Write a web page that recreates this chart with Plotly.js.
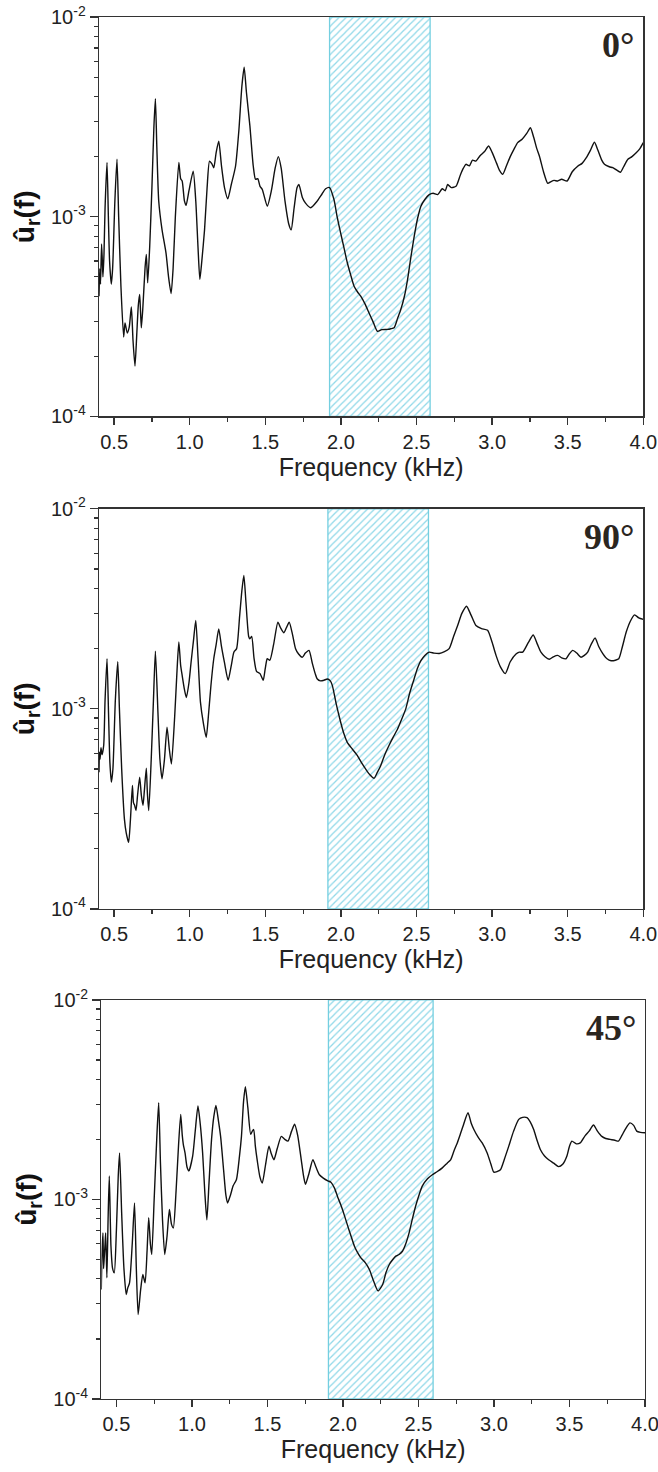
<!DOCTYPE html>
<html>
<head>
<meta charset="utf-8">
<script src="https://cdn.plot.ly/plotly-3.0.1.min.js"></script>
<style>html,body{margin:0;padding:0;background:#fff;}#chart{width:658px;height:1472px;}</style>
</head>
<body>
<div id="chart"></div>
<script>
// ---------- data ----------
const panelLabels = ['0°', '90°', '45°'];
const xTitle = 'Frequency (kHz)';
const yTitle = 'û<sub>r</sub>(f)';
const yTickVals = [1e-4, 1e-3, 1e-2];
const yTickText = ['10<sup>-4</sup>', '10<sup>-3</sup>', '10<sup>-2</sup>'];
const yMin = 1e-4, yMax = 1e-2;
const bandLow  = [1.925, 1.914, 1.904];
const bandHigh = [2.590, 2.579, 2.597];

const freq0 = [0.400,0.405,0.410,0.417,0.422,0.426,0.433,0.440,0.453,0.462,0.470,0.481,0.490,0.505,0.519,0.530,0.545,0.563,0.572,0.587,0.600,0.614,0.625,0.638,0.650,0.660,0.669,0.675,0.680,0.690,0.705,0.713,0.722,0.735,0.750,0.763,0.773,0.782,0.795,0.817,0.843,0.860,0.877,0.890,0.905,0.928,0.940,0.950,0.965,0.976,0.995,1.023,1.040,1.055,1.067,1.080,1.098,1.115,1.131,1.145,1.159,1.175,1.192,1.210,1.230,1.252,1.275,1.303,1.325,1.345,1.360,1.375,1.398,1.420,1.435,1.450,1.465,1.480,1.513,1.540,1.565,1.586,1.605,1.630,1.655,1.671,1.690,1.710,1.722,1.745,1.766,1.800,1.844,1.875,1.899,1.925,1.954,1.975,1.998,2.020,2.042,2.065,2.087,2.110,2.131,2.160,2.186,2.215,2.242,2.270,2.308,2.330,2.352,2.375,2.396,2.420,2.441,2.463,2.485,2.507,2.529,2.555,2.584,2.610,2.640,2.670,2.690,2.706,2.730,2.761,2.790,2.810,2.827,2.850,2.870,2.893,2.920,2.950,2.977,3.000,3.030,3.050,3.070,3.095,3.120,3.145,3.169,3.200,3.230,3.253,3.275,3.295,3.313,3.340,3.368,3.390,3.410,3.434,3.460,3.496,3.530,3.566,3.595,3.622,3.650,3.677,3.700,3.725,3.743,3.775,3.798,3.820,3.849,3.870,3.898,3.925,3.953,3.975,4.000];
const amp0 = [4.0e-4,5.5e-4,4.6e-4,7.3e-4,6.0e-4,5.0e-4,6.5e-4,1.1e-3,1.87e-3,1.0e-3,6.0e-4,4.6e-4,5.5e-4,1.2e-3,1.94e-3,1.0e-3,4.5e-4,2.5e-4,2.94e-4,2.62e-4,2.8e-4,3.54e-4,2.4e-4,1.79e-4,2.6e-4,3.6e-4,4.08e-4,3.3e-4,2.78e-4,3.5e-4,5.6e-4,6.48e-4,4.67e-4,7.0e-4,1.4e-3,2.8e-3,3.9e-3,2.3e-3,1.2e-3,8.6e-4,6.6e-4,5.0e-4,4.13e-4,5.5e-4,1.0e-3,1.87e-3,1.55e-3,1.51e-3,1.2e-3,1.14e-3,1.35e-3,1.69e-3,1.2e-3,7.0e-4,4.86e-4,6.0e-4,8.6e-4,1.4e-3,1.9e-3,1.85e-3,1.76e-3,2.1e-3,2.39e-3,1.8e-3,1.4e-3,1.23e-3,1.45e-3,1.79e-3,2.7e-3,4.5e-3,5.6e-3,4.2e-3,2.85e-3,1.8e-3,1.54e-3,1.55e-3,1.42e-3,1.37e-3,1.13e-3,1.35e-3,1.75e-3,2.0e-3,1.75e-3,1.2e-3,9.2e-4,8.6e-4,1.1e-3,1.4e-3,1.45e-3,1.25e-3,1.17e-3,1.11e-3,1.2e-3,1.3e-3,1.38e-3,1.4e-3,1.22e-3,1.0e-3,8.3e-4,7.0e-4,5.9e-4,5.1e-4,4.49e-4,4.2e-4,4.0e-4,3.65e-4,3.3e-4,2.95e-4,2.67e-4,2.72e-4,2.73e-4,2.75e-4,2.78e-4,3.1e-4,3.43e-4,4.0e-4,4.86e-4,6.3e-4,8.0e-4,9.8e-4,1.13e-3,1.22e-3,1.29e-3,1.31e-3,1.29e-3,1.38e-3,1.35e-3,1.45e-3,1.40e-3,1.42e-3,1.62e-3,1.75e-3,1.83e-3,1.80e-3,1.92e-3,1.90e-3,2.02e-3,2.12e-3,2.26e-3,2.10e-3,1.85e-3,1.70e-3,1.63e-3,1.80e-3,2.00e-3,2.18e-3,2.35e-3,2.45e-3,2.62e-3,2.79e-3,2.5e-3,2.2e-3,2.01e-3,1.68e-3,1.47e-3,1.5e-3,1.52e-3,1.51e-3,1.54e-3,1.51e-3,1.68e-3,1.79e-3,1.85e-3,1.97e-3,2.15e-3,2.36e-3,2.15e-3,1.92e-3,1.83e-3,1.78e-3,1.76e-3,1.72e-3,1.67e-3,1.78e-3,1.94e-3,2.0e-3,2.09e-3,2.18e-3,2.35e-3];

const freq90 = [0.400,0.403,0.407,0.413,0.420,0.431,0.440,0.453,0.463,0.472,0.482,0.492,0.508,0.524,0.535,0.550,0.568,0.580,0.596,0.608,0.621,0.628,0.636,0.645,0.655,0.669,0.680,0.691,0.700,0.713,0.720,0.729,0.745,0.760,0.773,0.790,0.803,0.817,0.833,0.850,0.865,0.879,0.900,0.915,0.928,0.940,0.950,0.965,0.978,0.995,1.009,1.025,1.040,1.055,1.071,1.090,1.109,1.125,1.140,1.159,1.175,1.192,1.210,1.230,1.254,1.275,1.292,1.310,1.330,1.345,1.358,1.372,1.390,1.398,1.410,1.425,1.442,1.465,1.486,1.500,1.513,1.530,1.555,1.583,1.600,1.623,1.640,1.658,1.680,1.700,1.720,1.744,1.765,1.789,1.810,1.830,1.844,1.865,1.888,1.910,1.930,1.943,1.970,1.998,2.020,2.042,2.075,2.108,2.135,2.164,2.190,2.219,2.240,2.263,2.290,2.318,2.345,2.374,2.400,2.429,2.455,2.484,2.507,2.529,2.555,2.584,2.615,2.650,2.685,2.716,2.745,2.772,2.800,2.831,2.860,2.893,2.930,2.970,3.000,3.026,3.055,3.087,3.120,3.158,3.180,3.202,3.240,3.272,3.300,3.323,3.350,3.378,3.405,3.434,3.460,3.489,3.510,3.533,3.560,3.588,3.610,3.632,3.655,3.681,3.705,3.732,3.760,3.787,3.815,3.838,3.862,3.887,3.915,3.942,3.970,4.000];
const amp90 = [4.82e-4,6.07e-4,5.6e-4,6.4e-4,5.9e-4,6.56e-4,1.1e-3,1.78e-3,9.5e-4,5.4e-4,4.3e-4,5.0e-4,1.1e-3,1.72e-3,1.0e-3,5.0e-4,2.82e-4,2.4e-4,2.15e-4,2.8e-4,4.14e-4,3.4e-4,3.29e-4,3.1e-4,3.7e-4,4.55e-4,3.7e-4,3.29e-4,3.9e-4,5.05e-4,3.8e-4,3.1e-4,5.5e-4,1.1e-3,1.94e-3,9.5e-4,5.6e-4,4.47e-4,5.6e-4,8.1e-4,6.3e-4,5.3e-4,9.0e-4,1.5e-3,2.16e-3,1.65e-3,1.47e-3,1.25e-3,1.14e-3,1.35e-3,1.71e-3,2.2e-3,2.77e-3,1.8e-3,1.08e-3,8.5e-4,7.2e-4,9.5e-4,1.3e-3,1.78e-3,2.1e-3,2.51e-3,2.05e-3,1.7e-3,1.39e-3,1.65e-3,1.92e-3,2.0e-3,2.9e-3,3.9e-3,4.64e-3,3.4e-3,2.3e-3,2.24e-3,2.3e-3,1.8e-3,1.54e-3,1.5e-3,1.39e-3,1.6e-3,1.78e-3,1.75e-3,2.1e-3,2.71e-3,2.55e-3,2.4e-3,2.55e-3,2.71e-3,2.35e-3,2.0e-3,1.88e-3,1.81e-3,1.9e-3,1.96e-3,1.7e-3,1.5e-3,1.41e-3,1.38e-3,1.39e-3,1.41e-3,1.38e-3,1.31e-3,1.05e-3,8.6e-4,7.5e-4,6.8e-4,6.3e-4,5.85e-4,5.4e-4,5.0e-4,4.7e-4,4.5e-4,4.8e-4,5.2e-4,5.9e-4,6.56e-4,7.2e-4,7.9e-4,8.8e-4,1.0e-3,1.2e-3,1.41e-3,1.6e-3,1.74e-3,1.85e-3,1.92e-3,1.9e-3,1.89e-3,1.93e-3,2.0e-3,2.3e-3,2.61e-3,3.0e-3,3.26e-3,2.95e-3,2.61e-3,2.52e-3,2.47e-3,2.15e-3,1.85e-3,1.62e-3,1.5e-3,1.72e-3,1.88e-3,1.92e-3,1.92e-3,2.15e-3,2.34e-3,2.1e-3,1.92e-3,1.82e-3,1.77e-3,1.82e-3,1.85e-3,1.8e-3,1.78e-3,1.88e-3,1.96e-3,1.9e-3,1.81e-3,1.85e-3,1.92e-3,2.1e-3,2.26e-3,2.05e-3,1.89e-3,1.78e-3,1.74e-3,1.75e-3,1.78e-3,2.05e-3,2.42e-3,2.75e-3,2.95e-3,2.85e-3,2.8e-3];

const freq45 = [0.400,0.405,0.411,0.415,0.420,0.425,0.429,0.437,0.445,0.453,0.464,0.475,0.486,0.500,0.512,0.521,0.535,0.550,0.565,0.575,0.587,0.605,0.620,0.632,0.644,0.660,0.675,0.690,0.703,0.714,0.725,0.734,0.750,0.767,0.780,0.792,0.805,0.820,0.835,0.851,0.865,0.877,0.895,0.912,0.926,0.936,0.943,0.955,0.968,0.980,1.005,1.022,1.040,1.055,1.071,1.085,1.099,1.113,1.130,1.145,1.159,1.175,1.190,1.210,1.225,1.236,1.255,1.273,1.295,1.315,1.328,1.342,1.354,1.370,1.389,1.400,1.409,1.420,1.433,1.450,1.466,1.488,1.510,1.525,1.543,1.565,1.592,1.615,1.636,1.660,1.680,1.700,1.724,1.740,1.752,1.775,1.801,1.822,1.844,1.870,1.900,1.920,1.944,1.965,1.988,2.010,2.032,2.055,2.076,2.098,2.119,2.150,2.175,2.203,2.232,2.263,2.285,2.307,2.330,2.350,2.372,2.394,2.416,2.438,2.460,2.482,2.505,2.526,2.560,2.592,2.625,2.658,2.690,2.713,2.735,2.757,2.775,2.795,2.828,2.850,2.867,2.895,2.922,2.955,2.980,2.999,3.020,3.043,3.070,3.098,3.130,3.164,3.190,3.219,3.240,3.263,3.285,3.307,3.335,3.362,3.395,3.428,3.455,3.483,3.500,3.516,3.545,3.571,3.604,3.630,3.659,3.685,3.714,3.740,3.769,3.800,3.824,3.848,3.868,3.900,3.925,3.945,3.970,4.000];
const amp45 = [3.54e-4,5.5e-4,6.8e-4,4.5e-4,5.2e-4,6.0e-4,6.8e-4,4.05e-4,8.0e-4,1.31e-3,5.83e-4,4.5e-4,4.29e-4,7.0e-4,1.3e-3,1.71e-3,8.5e-4,4.5e-4,3.34e-4,3.6e-4,3.82e-4,6.0e-4,9.6e-4,4.5e-4,2.65e-4,3.5e-4,4.21e-4,3.82e-4,5.5e-4,8.1e-4,6.0e-4,5.3e-4,1.0e-3,2.0e-3,3.05e-3,1.5e-3,8.0e-4,5.3e-4,6.5e-4,8.9e-4,7.5e-4,7.2e-4,1.1e-3,1.9e-3,2.67e-3,2.1e-3,1.89e-3,1.7e-3,1.45e-3,1.39e-3,1.65e-3,2.2e-3,2.94e-3,2.4e-3,1.71e-3,1.1e-3,7.9e-4,1.2e-3,2.0e-3,2.6e-3,2.96e-3,2.5e-3,2.07e-3,1.4e-3,1.05e-3,9.6e-4,1.05e-3,1.17e-3,1.26e-3,1.65e-3,2.07e-3,3.1e-3,3.67e-3,2.9e-3,2.12e-3,2.2e-3,2.24e-3,1.85e-3,1.56e-3,1.3e-3,1.21e-3,1.5e-3,1.85e-3,1.7e-3,1.58e-3,1.8e-3,2.07e-3,2.0e-3,1.96e-3,2.2e-3,2.38e-3,2.1e-3,1.58e-3,1.3e-3,1.19e-3,1.35e-3,1.58e-3,1.45e-3,1.33e-3,1.28e-3,1.24e-3,1.22e-3,1.14e-3,1.03e-3,9.3e-4,8.3e-4,7.35e-4,6.5e-4,5.83e-4,5.4e-4,5.1e-4,4.8e-4,4.46e-4,3.9e-4,3.48e-4,3.75e-4,4.3e-4,4.72e-4,5.0e-4,5.2e-4,5.3e-4,5.5e-4,6.0e-4,6.8e-4,8.0e-4,9.3e-4,1.06e-3,1.17e-3,1.27e-3,1.33e-3,1.38e-3,1.44e-3,1.52e-3,1.58e-3,1.75e-3,1.92e-3,2.1e-3,2.33e-3,2.72e-3,2.4e-3,2.24e-3,2.05e-3,1.92e-3,1.71e-3,1.5e-3,1.37e-3,1.38e-3,1.41e-3,1.6e-3,1.85e-3,2.2e-3,2.52e-3,2.58e-3,2.57e-3,2.45e-3,2.24e-3,1.98e-3,1.78e-3,1.65e-3,1.58e-3,1.52e-3,1.46e-3,1.5e-3,1.65e-3,1.85e-3,1.96e-3,1.9e-3,1.92e-3,2.09e-3,2.2e-3,2.36e-3,2.2e-3,2.07e-3,2.02e-3,2.0e-3,1.98e-3,1.96e-3,2.1e-3,2.24e-3,2.42e-3,2.35e-3,2.2e-3,2.17e-3,2.16e-3];

const freqs = [freq0, freq90, freq45];
const amps  = [amp0, amp90, amp45];

// ---------- styling / layout ----------
const axisColor = '#333333';
const bandLine = '#74cfe0';
const bandHatch = '#8fd8e8';
const xDomains = [[0, 0.9969], [0, 0.9969], [0.0042, 1]];
const yDomains = [[0.71093, 1], [0.35464, 0.64414], [0, 0.28878]];

const traces = [];
const annotations = [];
const layout = {
  width: 658, height: 1472,
  margin: {l: 98.7, r: 13, t: 17.3, b: 73},
  paper_bgcolor: '#ffffff', plot_bgcolor: '#ffffff',
  showlegend: false,
  font: {family: 'Arial, "Liberation Sans", sans-serif', color: '#222222'},
  annotations: annotations
};

for (let i = 0; i < 3; i++) {
  const sfx = i === 0 ? '' : String(i + 1);
  const xa = 'x' + sfx, ya = 'y' + sfx;
  // hatched band
  traces.push({
    x: [bandLow[i], bandHigh[i], bandHigh[i], bandLow[i], bandLow[i]],
    y: [yMin, yMin, yMax, yMax, yMin],
    xaxis: xa, yaxis: ya,
    mode: 'lines', fill: 'toself',
    fillcolor: 'rgba(255,255,255,0)',
    fillpattern: {shape: '/', fgcolor: bandHatch, bgcolor: 'rgba(255,255,255,0)', size: 5, solidity: 0.25},
    line: {color: bandLine, width: 1.3},
    hoverinfo: 'skip'
  });
  // spectrum
  traces.push({
    x: freqs[i], y: amps[i],
    xaxis: xa, yaxis: ya,
    mode: 'lines',
    line: {color: '#111111', width: 1.4, shape: 'spline', smoothing: 0.6}
  });

  layout['xaxis' + sfx] = {
    domain: xDomains[i], anchor: ya,
    range: [0.4, 4.0], tick0: 0.5, dtick: 0.5, tickformat: '.1f',
    ticks: 'outside', ticklen: 7, tickwidth: 1.3, tickcolor: axisColor,
    ticklabeloverflow: 'allow',
    minor: {ticks: 'outside', ticklen: 4, tickwidth: 1.2, tickcolor: axisColor, tick0: 0.25, dtick: 0.25, showgrid: false},
    showline: true, linecolor: axisColor, linewidth: 1.3, mirror: true,
    showgrid: false, zeroline: false,
    tickfont: {size: 20, color: '#222222'},
    title: {text: xTitle, font: {size: 25, color: '#222222'}, standoff: 4}
  };
  layout['yaxis' + sfx] = {
    domain: yDomains[i], anchor: xa,
    type: 'log', range: [Math.log10(yMin), Math.log10(yMax)],
    tickmode: 'array', tickvals: yTickVals, ticktext: yTickText,
    ticks: 'outside', ticklen: 8, tickwidth: 1.3, tickcolor: axisColor,
    ticklabeloverflow: 'allow',
    minor: {ticks: 'outside', ticklen: 4, tickwidth: 1.2, tickcolor: axisColor, dtick: 'D1', showgrid: false},
    showline: true, linecolor: axisColor, linewidth: 1.3, mirror: true,
    showgrid: false, zeroline: false,
    tickfont: {size: 20, color: '#222222'},
    title: {text: yTitle, font: {size: 28, color: '#111111', weight: 'bold'}, standoff: 8}
  };
  annotations.push({
    xref: xa + ' domain', yref: ya + ' domain',
    x: 0.987, y: 0.985, xanchor: 'right', yanchor: 'top',
    text: panelLabels[i], showarrow: false,
    font: {family: '"Liberation Serif", "Times New Roman", serif', size: 36, color: '#2b261f', weight: 'bold'}
  });
}

Plotly.newPlot('chart', traces, layout, {staticPlot: true, displayModeBar: false});
</script>
</body>
</html>
